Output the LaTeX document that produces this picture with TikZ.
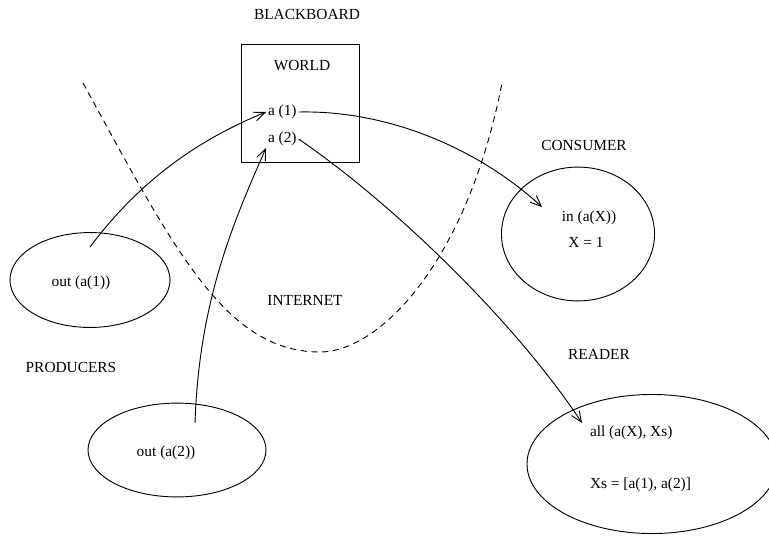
\documentclass[tikz,border=0pt]{standalone}
\usepackage{fontspec}
\setmainfont{Liberation Serif}
\usetikzlibrary{shapes.geometric,arrows.meta}

\begin{document}
\begin{tikzpicture}[x=0.65pt,y=-0.65pt,line width=0.6pt,
    blob/.style={draw, ellipse, inner sep=0pt},
    txt/.style={inner sep=1pt},
    flow/.style={-{Straight Barb[length=7pt,width=6pt]}},
    net/.style={dash pattern=on 4pt off 3pt}]

    \clip (0,0) rectangle (769,544);

    % blackboard
    \node[txt](bb) at (307,14) {BLACKBOARD};
    \node[draw, minimum size=76.7pt, inner sep=0pt](world) at (300,103) {};
    \node[txt](wl) at (302,66) {WORLD};
    \node[txt, anchor=west](a1) at (266,112) {a (1)};
    \node[txt, anchor=west](a2) at (266,139) {a (2)};

    % internet
    \draw[net] (83,83) .. controls (174,249) and (225,352) .. (320,352)
        .. controls (379,352) and (467,263) .. (502,83);
    \node[txt](net) at (305,300) {INTERNET};

    % producers
    \node[blob, minimum width=104pt, minimum height=61.7pt](prod1) at (90,280) {};
    \node[txt](out1) at (81,283) {out (a(1))};
    \node[txt](prods) at (71,367) {PRODUCERS};
    \node[blob, minimum width=115.7pt, minimum height=61pt](prod2) at (177,450) {};
    \node[txt](out2) at (166,453) {out (a(2))};
    \coordinate (p1) at (90,247);
    \coordinate (p2) at (195,423);

    % consumer
    \node[txt](cons) at (584,145) {CONSUMER};
    \node[blob, minimum width=99.5pt, minimum height=87pt](consumer) at (578,234) {};
    \node[txt](cin) at (589,218) {in (a(X))};
    \node[txt](cx) at (586,242) {X = 1};
    \coordinate (c) at (542,207);

    % reader
    \node[txt](rd) at (599,354) {READER};
    \node[blob, minimum width=162.5pt, minimum height=90.4pt](reader) at (652,464) {};
    \node[txt, anchor=west](rall) at (588,433) {all (a(X), Xs)};
    \node[txt, anchor=west](rxs) at (588,485) {Xs = [a(1), a(2)]};
    \coordinate (r) at (582,423);

    \draw[flow] (p1) .. controls (138,183) and (195,141) .. (a1.west);
    \draw[flow] (p2) .. controls (199,303) and (232,225) .. (a2.south west);
    \draw[flow] (a1.east) .. controls (390,110) and (480,150) .. (c);
    \draw[flow] (a2.east) .. controls (395,205) and (516,323) .. (r);

\end{tikzpicture}
\end{document}
